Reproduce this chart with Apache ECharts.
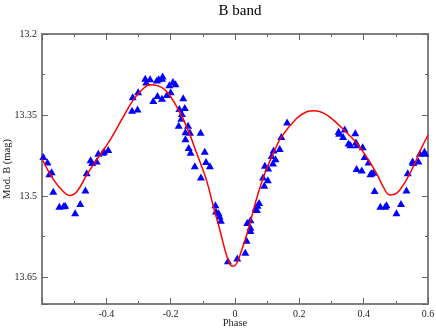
<!DOCTYPE html>
<html>
<head>
<meta charset="utf-8">
<script src="https://cdn.jsdelivr.net/npm/echarts@6/dist/echarts.min.js"></script>
<style>
  html, body { margin: 0; padding: 0; background: #fff; }
  #chart { width: 436px; height: 329px; }
</style>
</head>
<body>
<div id="chart"></div>
<script>
// observed points (phase, magnitude)
const obsPhase = [
  -0.596, -0.583, -0.570, -0.577, -0.565, -0.546, -0.533, -0.528, -0.497, -0.481,
  -0.465, -0.461, -0.449, -0.444, -0.430, -0.425, -0.411, -0.407, -0.394,
  -0.318, -0.301, -0.320, -0.303, -0.279, -0.276, -0.264, -0.243, -0.237, -0.225, -0.227,
  -0.254, -0.241, -0.227, -0.212, -0.204, -0.193, -0.185, -0.200, -0.161, -0.173,
  -0.156, -0.165, -0.167, -0.175, -0.146, -0.154, -0.140, -0.107, -0.154, -0.144,
  -0.138, -0.094, -0.125, -0.090, -0.078, -0.106, -0.061, -0.059, -0.051, -0.048,
  -0.044, -0.022, 0.007, 0.032, 0.036, 0.038, 0.048, 0.048, 0.048, 0.064,
  0.070, 0.075, 0.068, 0.087, 0.102, 0.091, 0.093, 0.103, 0.118, 0.114,
  0.126, 0.120, 0.139, 0.144, 0.162, 0.322, 0.324, 0.341, 0.336, 0.374,
  0.353, 0.359, 0.376, 0.380, 0.397, 0.403, 0.415, 0.425, 0.421, 0.430,
  0.378, 0.394, 0.434, 0.452, 0.471, 0.467, 0.502, 0.516, 0.533, 0.537,
  0.552, 0.554, 0.570, 0.575, 0.589, 0.591
];
const obsMag = [
  13.427, 13.437, 13.455, 13.459, 13.491, 13.519, 13.518, 13.517, 13.531, 13.514,
  13.489, 13.457, 13.433, 13.438, 13.435, 13.421, 13.419, 13.417, 13.414,
  13.316, 13.307, 13.341, 13.339, 13.282, 13.289, 13.283, 13.285, 13.283, 13.278, 13.282,
  13.323, 13.314, 13.319, 13.312, 13.294, 13.288, 13.292, 13.307, 13.318, 13.338,
  13.336, 13.347, 13.356, 13.369, 13.369, 13.381, 13.382, 13.382, 13.394, 13.410,
  13.419, 13.417, 13.444, 13.436, 13.444, 13.465, 13.516, 13.528, 13.531, 13.537,
  13.545, 13.620, 13.615, 13.604, 13.582, 13.549, 13.544, 13.558, 13.564, 13.522,
  13.517, 13.512, 13.525, 13.465, 13.470, 13.480, 13.443, 13.448, 13.439, 13.425,
  13.431, 13.415, 13.412, 13.390, 13.363, 13.380, 13.384, 13.376, 13.390, 13.383,
  13.402, 13.405, 13.400, 13.405, 13.409, 13.427, 13.437, 13.457, 13.459, 13.456,
  13.449, 13.452, 13.490, 13.519, 13.516, 13.519, 13.531, 13.514, 13.489, 13.457,
  13.435, 13.438, 13.435, 13.421, 13.417, 13.421
];

// fitted light curve
const fitPhase = [
  -0.600, -0.564, -0.533, -0.515, -0.492, -0.461, -0.430, -0.388, -0.347, -0.316,
  -0.285, -0.264, -0.238, -0.212, -0.181, -0.150, -0.119, -0.088, -0.067, -0.047,
  -0.031, -0.016, -0.005, 0.005, 0.021, 0.041, 0.052, 0.072, 0.093, 0.119,
  0.145, 0.192, 0.223, 0.246, 0.274, 0.305, 0.336, 0.378, 0.409, 0.440,
  0.461, 0.481, 0.502, 0.523, 0.554, 0.575, 0.600
];
const fitMag = [
  13.431, 13.470, 13.492, 13.499, 13.492, 13.461, 13.433, 13.396, 13.353, 13.322,
  13.301, 13.294, 13.296, 13.307, 13.335, 13.372, 13.421, 13.472, 13.520, 13.563,
  13.600, 13.626, 13.630, 13.625, 13.600, 13.563, 13.538, 13.495, 13.458, 13.421,
  13.390, 13.356, 13.344, 13.342, 13.346, 13.359, 13.376, 13.402, 13.428, 13.458,
  13.483, 13.498, 13.495, 13.480, 13.446, 13.417, 13.387
];

const FONT = 'Liberation Serif';
const AXIS_GREY = '#808080';

const chart = echarts.init(document.getElementById('chart'));

const xBase = {
  type: 'value',
  min: -0.6,
  max: 0.6,
  interval: 0.2,
  axisLine: { onZero: false, lineStyle: { color: AXIS_GREY, width: 2 } },
  axisTick: { inside: true, length: 6, lineStyle: { color: '#666', width: 1 } },
  minorTick: { show: true, splitNumber: 2, length: 3, lineStyle: { color: '#666', width: 1 } },
  splitLine: { show: false }
};
const yBase = {
  type: 'value',
  inverse: true,
  min: 13.2,
  max: 13.7,
  interval: 0.15,
  axisLine: { onZero: false, lineStyle: { color: AXIS_GREY, width: 2 } },
  axisTick: { inside: true, length: 6, lineStyle: { color: '#666', width: 1 } },
  minorTick: { show: true, splitNumber: 2, length: 3, lineStyle: { color: '#666', width: 1 } },
  splitLine: { show: false }
};

chart.setOption({
  animation: false,
  title: {
    text: 'B band',
    left: 235,
    textAlign: 'center',
    top: -1,
    textStyle: { fontFamily: FONT, fontSize: 15, fontWeight: 'normal', color: '#000' }
  },
  grid: { left: 42, right: 8, top: 34, bottom: 25, containLabel: false, outerBoundsMode: 'none' },
  xAxis: [
    Object.assign({}, xBase, {
      position: 'bottom',
      name: 'Phase',
      nameLocation: 'middle',
      nameGap: 14,
      nameMoveOverlap: false,
      nameTextStyle: { fontFamily: FONT, fontSize: 10.5, color: '#222' },
      axisLabel: {
        fontFamily: FONT, fontSize: 10, color: '#222', margin: 5,
        formatter: v => (Math.abs(v + 0.6) < 1e-6 ? '' : String(+v.toFixed(1)))
      }
    }),
    Object.assign({}, xBase, {
      position: 'top',
      axisLabel: { show: false }
    })
  ],
  yAxis: [
    Object.assign({}, yBase, {
      position: 'left',
      name: 'Mod. B (mag)',
      nameLocation: 'middle',
      nameGap: 29,
      nameMoveOverlap: false,
      nameTextStyle: { fontFamily: FONT, fontSize: 10.5, color: '#222' },
      axisLabel: {
        fontFamily: FONT, fontSize: 10, color: '#222', margin: 5,
        formatter: v => (Math.abs(v - 13.7) < 1e-6 ? '' : String(+v.toFixed(2)))
      }
    }),
    Object.assign({}, yBase, {
      position: 'right',
      axisLabel: { show: false }
    })
  ],
  series: [
    {
      type: 'scatter',
      symbol: 'triangle',
      symbolSize: [8, 7],
      itemStyle: { color: '#0000ff', opacity: 1 },
      data: obsPhase.map((p, i) => [p, obsMag[i]]),
      z: 2
    },
    {
      type: 'line',
      smooth: 0.4,
      showSymbol: false,
      lineStyle: { color: '#ff0000', width: 1.5 },
      data: fitPhase.map((p, i) => [p, fitMag[i]]),
      z: 3
    }
  ]
});
</script>
</body>
</html>
